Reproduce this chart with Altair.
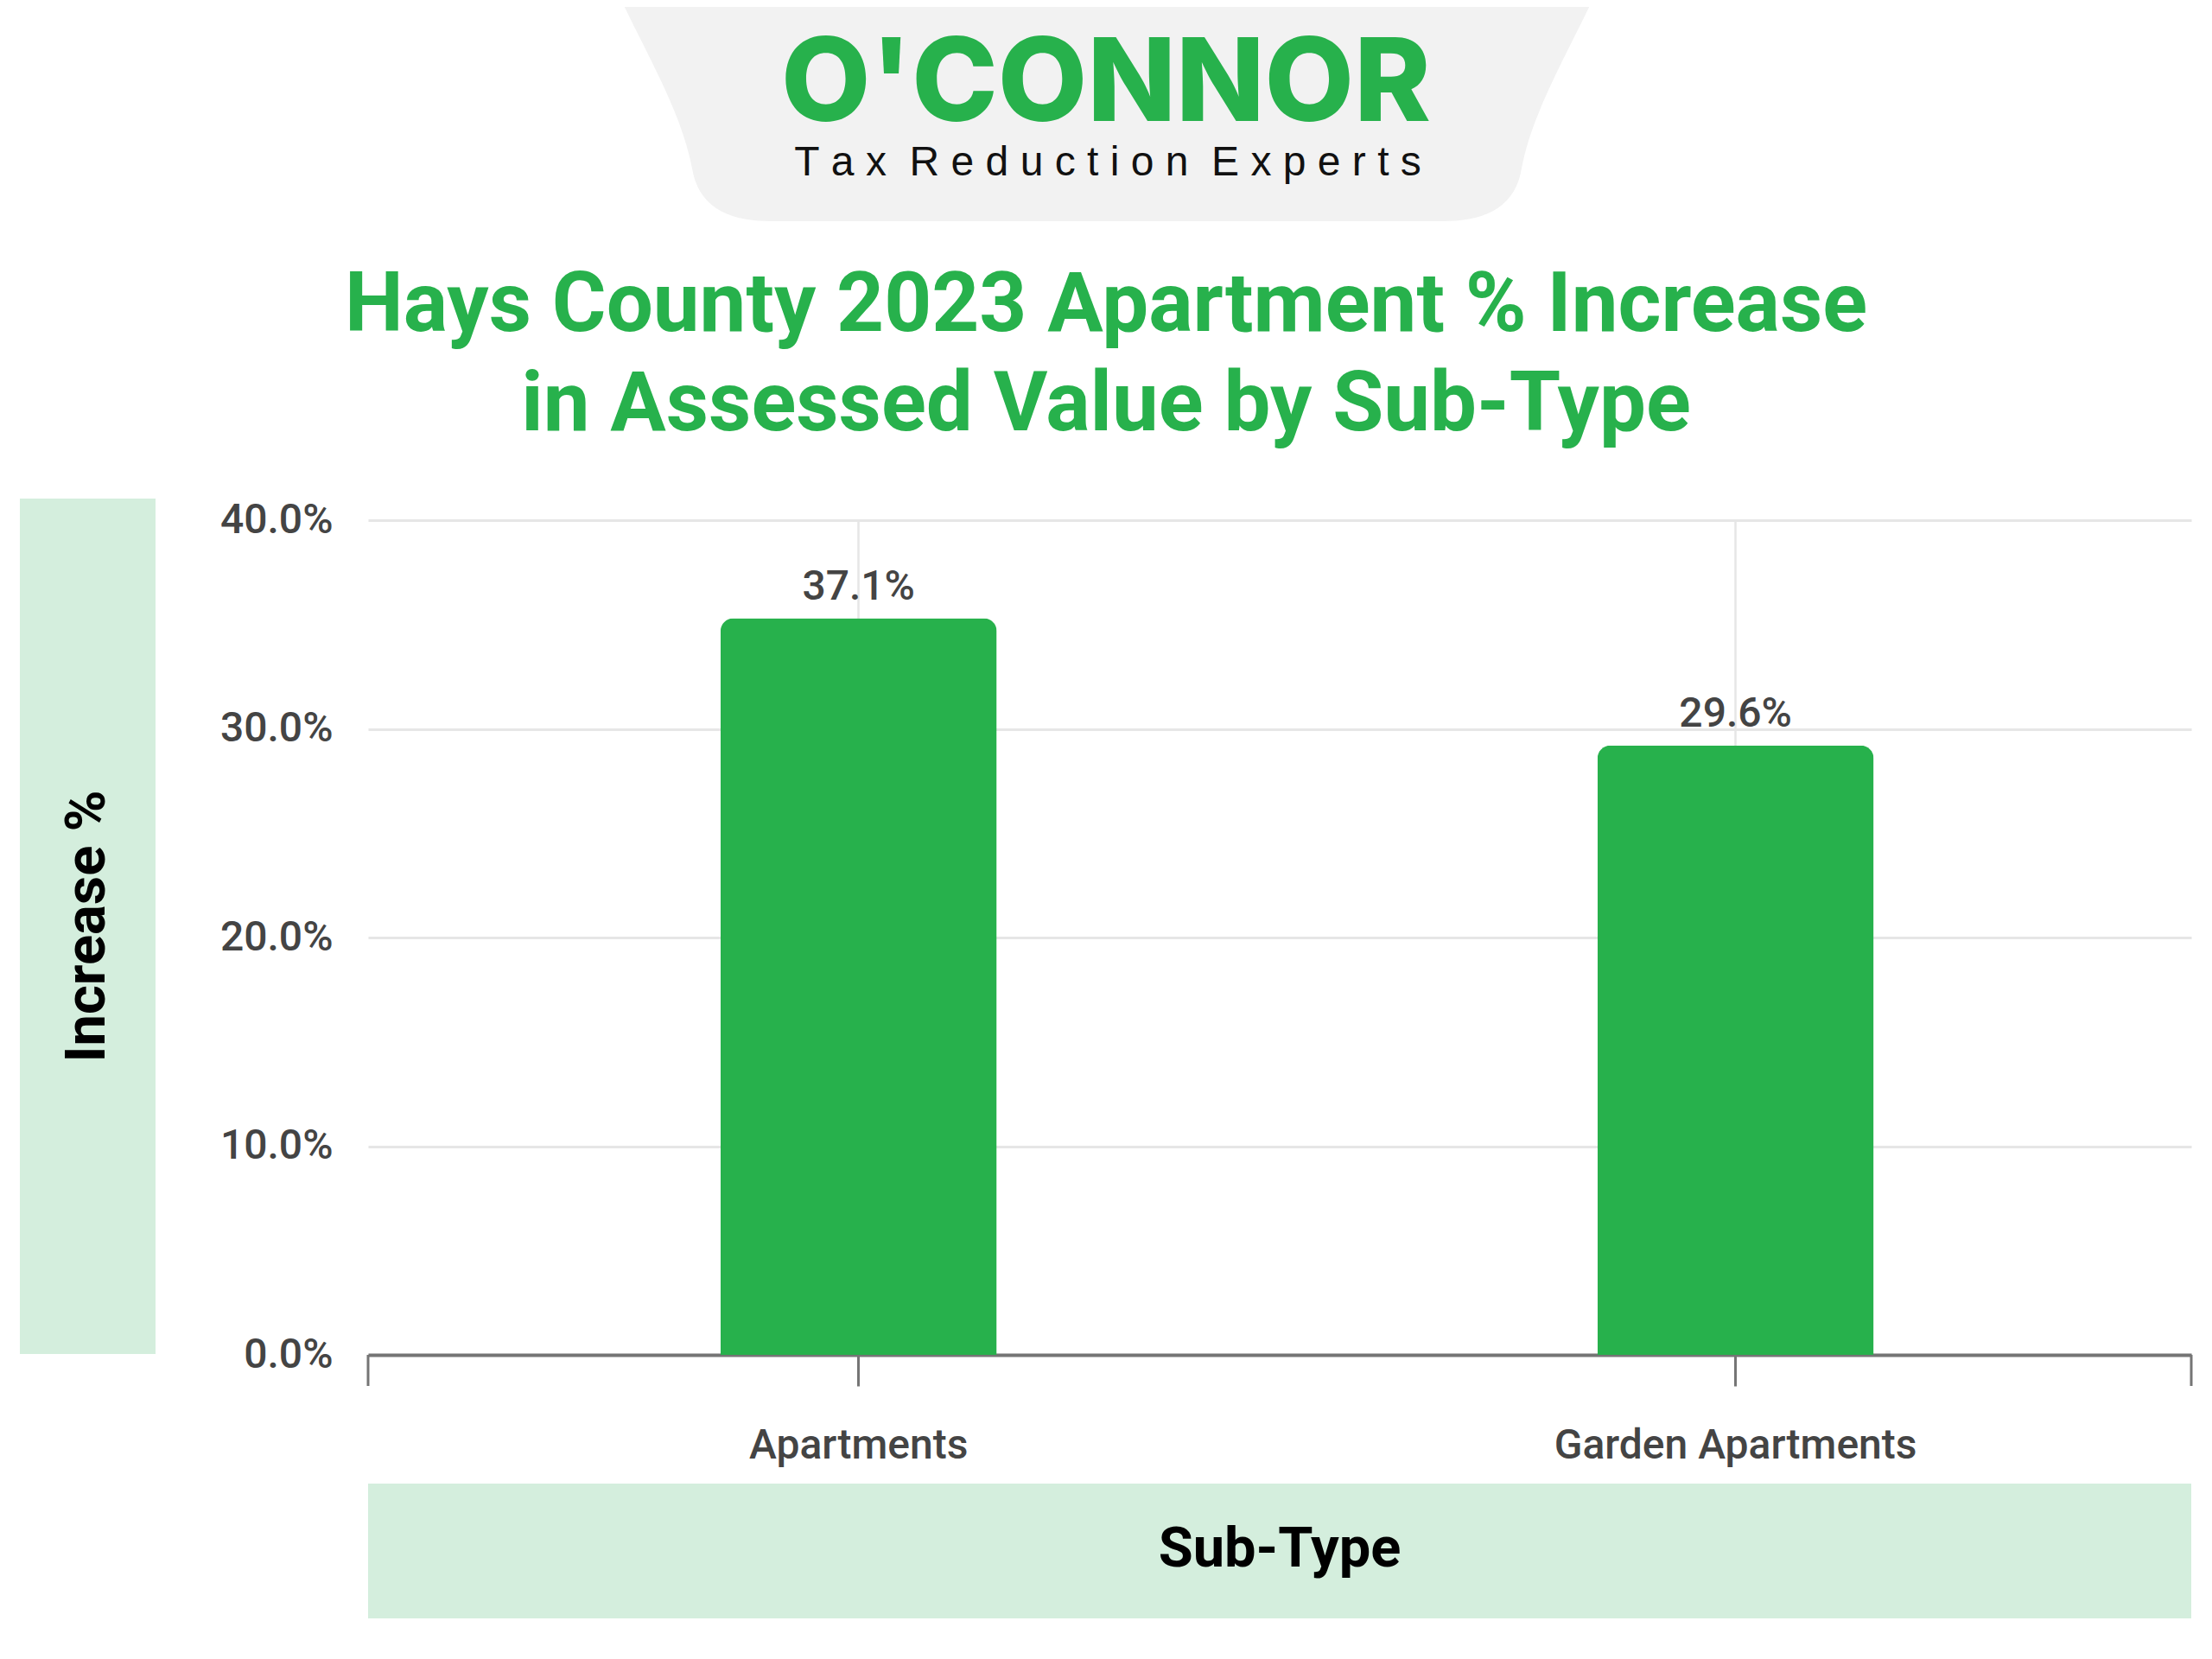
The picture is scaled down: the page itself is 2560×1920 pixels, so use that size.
import altair as alt
import pandas as pd

# ---- data ----
categories = ["Apartments", "Garden Apartments"]
bar_values = [35.3, 29.2]          # bar heights as drawn
label_texts = ["37.1%", "29.6%"]   # printed value labels
y_ticks = [0, 10, 20, 30, 40]

title_lines = ["Hays County 2023 Apartment % Increase", "in Assessed Value by Sub-Type"]
x_title = "Sub-Type"
y_title = "Increase %"
logo_name = "O'CONNOR"
logo_tag = "\u00a0\u00a0".join("\u00a0".join(w) for w in "Tax Reduction Experts".split(" "))

GREEN = "#27B14C"
LIGHT = "#D4EEDD"
GRAY_BG = "#F2F2F2"
TXT = "#444444"
AXIS = "#757575"

W, H = 2110, 966

df = pd.DataFrame({"subtype": categories, "bar": bar_values, "label": label_texts})
one = pd.DataFrame({"k": [0]})

xenc = alt.X(
    "subtype:N", sort=categories,
    scale=alt.Scale(paddingInner=0.685, paddingOuter=0.382, align=0.526),
    axis=alt.Axis(title=None, labelAngle=0, labelFontSize=48, labelColor=TXT, labelFont="Roboto",
                  labelFontWeight=500, labelPadding=45, labelLimit=0, tickSize=36, tickColor=AXIS,
                  tickWidth=3, domainColor=AXIS, domainWidth=4, grid=True, gridColor="#e6e6e6",
                  gridWidth=2.5, bandPosition=0.5),
)
yenc = alt.Y(
    "bar:Q", scale=alt.Scale(domain=[0, 40], nice=False),
    axis=alt.Axis(title=None, values=y_ticks, labelExpr="format(datum.value, '.1f') + '%'",
                  labelFontSize=48, labelColor=TXT, labelFont="Roboto", labelFontWeight=500,
                  labelPadding=41, ticks=False, tickSize=0, domain=False,
                  gridColor="#e6e6e6", gridWidth=3),
)

bars = alt.Chart(df).mark_bar(color=GREEN, cornerRadiusTopLeft=15, cornerRadiusTopRight=15).encode(x=xenc, y=yenc)
labels = alt.Chart(df).mark_text(dy=-22, baseline="alphabetic", fontSize=48, color=TXT, font="Roboto",
                                 fontWeight=500).encode(x=xenc, y=yenc, text="label:N")

edge_l = alt.Chart(one).mark_rule(color=AXIS, strokeWidth=3).encode(
    x=alt.value(0), y=alt.value(H), y2=alt.value(H + 36))
edge_r = alt.Chart(one).mark_rule(color=AXIS, strokeWidth=3).encode(
    x=alt.value(W), y=alt.value(H), y2=alt.value(H + 36))

# logo background bowl shape (pixel-unit path, size=4 -> scale 1)
logo_path = ("M -566 -20 L -562 0 C -534 60 -492 130 -480 195 Q -470 256 -390 256 "
             "L 390 256 Q 470 256 480 195 C 492 130 534 60 562 0 L 566 -20 Z")
logo_bg = alt.Chart(one).mark_point(shape=logo_path, size=4, filled=True, fill=GRAY_BG,
                                    opacity=1, strokeWidth=0).encode(
    x=alt.value(855), y=alt.value(-602))
logo_t1 = alt.Chart(one).mark_text(text=logo_name, font="Inter", fontWeight=800, fontSize=134,
                                   color=GREEN, align="center", baseline="alphabetic").encode(
    x=alt.value(854), y=alt.value(-462))
logo_t2 = alt.Chart(one).mark_text(text=logo_tag, font="Liberation Sans", fontSize=48,
                                   color="#111111", align="center", baseline="alphabetic").encode(
    x=alt.value(856), y=alt.value(-399))

title1 = alt.Chart(one).mark_text(text=title_lines[0], font="Roboto", fontWeight="bold", fontSize=96,
                                  color=GREEN, align="center", baseline="alphabetic").encode(
    x=alt.value(854), y=alt.value(-219))
title2 = alt.Chart(one).mark_text(text=title_lines[1], font="Roboto", fontWeight="bold", fontSize=96,
                                  color=GREEN, align="center", baseline="alphabetic").encode(
    x=alt.value(854), y=alt.value(-104))

ybox = alt.Chart(one).mark_rect(color=LIGHT).encode(
    x=alt.value(-403), x2=alt.value(-246), y=alt.value(-25), y2=alt.value(965))
ytxt = alt.Chart(one).mark_text(text=y_title, font="Roboto", fontWeight="bold", fontSize=65,
                                color="#000000", angle=270, align="center", baseline="middle").encode(
    x=alt.value(-325), y=alt.value(470))
xbox = alt.Chart(one).mark_rect(color=LIGHT).encode(
    x=alt.value(0), x2=alt.value(W), y=alt.value(1115), y2=alt.value(1271))
xtxt = alt.Chart(one).mark_text(text=x_title, font="Roboto", fontWeight="bold", fontSize=65,
                                color="#000000", align="center", baseline="alphabetic").encode(
    x=alt.value(W / 2), y=alt.value(1211))

chart = alt.layer(
    logo_bg, logo_t1, logo_t2, title1, title2, ybox, ytxt, xbox, xtxt,
    bars, labels, edge_l, edge_r,
).properties(
    width=W, height=H,
    autosize=alt.AutoSizeParams(type="none"),
    padding={"left": 418, "top": 594, "right": 16, "bottom": 344},
    background="white",
).configure_view(stroke=None)

chart.save("out.html", embed_options={"renderer": "svg", "actions": False})
